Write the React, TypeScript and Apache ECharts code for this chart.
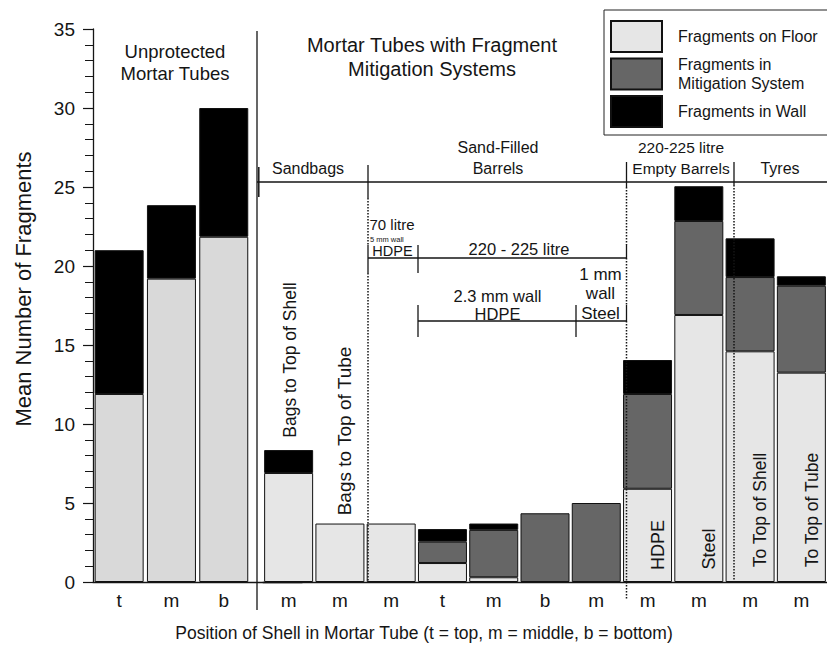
import React, { useEffect, useRef } from "react";
import * as echarts from "echarts";

// ---- data ----
const unprotectedCats = ["t", "m", "b", ""];
const mitigatedCats = ["m", "m", "m", "t", "m", "b", "m", "m", "m", "m", "m"];

const unprotFloor = [11.9, 19.2, 21.85];
const unprotWall = [9.1, 4.65, 8.15];

const mitFloor = [6.9, 3.7, 3.7, 1.2, 0.3, null, null, 5.9, 16.9, 14.6, 13.25];
const mitSystem = [null, null, null, 1.35, 3.0, 4.35, 5.0, 6.0, 5.95, 4.7, 5.5];
const mitWall = [1.45, null, null, 0.8, 0.4, null, null, 2.15, 2.2, 2.45, 0.6];

const seriesNames = [
  "Fragments on Floor",
  "Fragments in\nMitigation System",
  "Fragments in Wall",
];

const Y_MIN = 0;
const Y_MAX = 35;
const Y_INTERVAL = 5;

// ---- styles ----
const FONT = "'Liberation Sans', Arial, sans-serif";
const INK = "#151515";
const FLOOR = "#e6e6e6";
const FLOOR_UNPROT = "#d9d9d9";
const MIT = "#666666";
const WALL = "#000000";

function line(x1: number, y1: number, x2: number, y2: number, dashed = false, w = 1.3) {
  return {
    type: "line",
    z: 100,
    silent: true,
    shape: { x1, y1, x2, y2 },
    style: {
      stroke: INK,
      lineWidth: dashed ? 1.5 : w,
      lineDash: dashed ? [1.5, 1.5] : null,
    },
  };
}

function text(t: string, x: number, y: number, size: number, opts: any = {}) {
  return {
    type: "text",
    z: 100,
    silent: true,
    x,
    y,
    rotation: opts.rotation || 0,
    style: {
      text: t,
      fill: INK,
      fontSize: size,
      fontFamily: FONT,
      textAlign: opts.align || "center",
      textVerticalAlign: "middle",
      lineHeight: opts.lineHeight || size * 1.2,
    },
  };
}

export default function App() {
  const ref = useRef<HTMLDivElement>(null);

  useEffect(() => {
    document.body.style.margin = "0";
    if (!ref.current) return;
    const chart = echarts.init(ref.current, null, { renderer: "svg" });

    const barStyle = (color: string) => ({
      color,
      borderColor: "#111",
      borderWidth: 1,
    });

    const axisLabel = { fontSize: 19, color: INK, fontFamily: FONT };

    const option: any = {
      animation: false,
      backgroundColor: "#ffffff",
      textStyle: { fontFamily: FONT },
      grid: [
        { left: 93, top: 29, width: 209.2, height: 553 },
        { left: 263, top: 29, width: 575.3, height: 553 },
      ],
      legend: {
        orient: "vertical",
        left: 610,
        top: 20,
        padding: 0,
        itemWidth: 51,
        itemHeight: 31,
        itemGap: 2,
        icon: "rect",
        selectedMode: false,
        borderWidth: 0,
        data: seriesNames,
        textStyle: {
          fontSize: 16,
          color: INK,
          fontFamily: FONT,
          lineHeight: 19,
          padding: [0, 0, 0, 11],
        },
      },
      xAxis: [
        {
          type: "category",
          gridIndex: 0,
          data: unprotectedCats,
          axisLine: { lineStyle: { color: INK, width: 1.3 } },
          axisTick: { show: false },
          axisLabel: { ...axisLabel, margin: 9 },
        },
        {
          type: "category",
          gridIndex: 1,
          data: mitigatedCats,
          axisLine: { lineStyle: { color: INK, width: 1.3 } },
          axisTick: { show: false },
          axisLabel: { ...axisLabel, margin: 9 },
        },
      ],
      yAxis: [
        {
          type: "value",
          gridIndex: 0,
          min: Y_MIN,
          max: Y_MAX,
          interval: Y_INTERVAL,
          axisLine: { show: true, lineStyle: { color: INK, width: 1.3 } },
          axisTick: { show: true, length: 10, lineStyle: { color: INK, width: 1.2 } },
          minorTick: { show: true, splitNumber: 5, length: 8, lineStyle: { color: INK, width: 1 } },
          splitLine: { show: false },
          minorSplitLine: { show: false },
          axisLabel: { ...axisLabel, margin: 18 },
        },
        {
          type: "value",
          gridIndex: 1,
          min: Y_MIN,
          max: Y_MAX,
          interval: Y_INTERVAL,
          show: false,
          splitLine: { show: false },
        },
      ],
      series: [
        {
          name: seriesNames[0],
          type: "bar",
          xAxisIndex: 0,
          yAxisIndex: 0,
          stack: "unprot",
          barWidth: 49,
          itemStyle: barStyle(FLOOR),
          data: unprotFloor.map((v) => ({ value: v, itemStyle: { color: FLOOR_UNPROT } })),
        },
        {
          name: seriesNames[2],
          type: "bar",
          xAxisIndex: 0,
          yAxisIndex: 0,
          stack: "unprot",
          barWidth: 49,
          itemStyle: barStyle(WALL),
          data: unprotWall,
        },
        {
          name: seriesNames[0],
          type: "bar",
          xAxisIndex: 1,
          yAxisIndex: 1,
          stack: "mit",
          barWidth: 49,
          itemStyle: barStyle(FLOOR),
          data: mitFloor,
        },
        {
          name: seriesNames[1],
          type: "bar",
          xAxisIndex: 1,
          yAxisIndex: 1,
          stack: "mit",
          barWidth: 49,
          itemStyle: barStyle(MIT),
          data: mitSystem,
        },
        {
          name: seriesNames[2],
          type: "bar",
          xAxisIndex: 1,
          yAxisIndex: 1,
          stack: "mit",
          barWidth: 49,
          itemStyle: barStyle(WALL),
          data: mitWall,
        },
      ],
      graphic: {
        elements: [
          // legend frame (runs off the right edge like the reference)
          {
            type: "rect",
            z: 100,
            silent: true,
            shape: { x: 604, y: 10, width: 260, height: 125 },
            style: { fill: "none", stroke: "#222", lineWidth: 1 },
          },
          // main separator
          line(257, 31, 257, 610),
          line(258.8, 167, 258.8, 197, false, 1.5),
          line(257, 182, 827, 182),
          line(368, 165, 368, 198),
          line(626.5, 162, 626.5, 187),
          line(734, 162, 734, 185),
          // 70 litre / 220-225 litre bracket
          line(368, 245, 368, 273),
          line(418, 245, 418, 273),
          line(368, 258, 626.5, 258),
          line(626.5, 245, 626.5, 258),
          // 2.3 mm / steel bracket
          line(418, 305, 418, 337),
          line(576, 305, 576, 337),
          line(418, 321, 626.5, 321),
          line(626.5, 305, 626.5, 321),
          // dotted dividers
          line(368, 198, 368, 245, true),
          line(368, 273, 368, 582, true),
          line(626.5, 187, 626.5, 245, true),
          line(626.5, 258, 626.5, 305, true),
          line(626.5, 321, 626.5, 600, true),
          line(734, 185, 734, 582, true),
          // headings
          text("Unprotected\nMortar Tubes", 175, 62.5, 18.5, { lineHeight: 22 }),
          text("Mortar Tubes with Fragment\nMitigation Systems", 432, 57, 20, { lineHeight: 23.5 }),
          text("Sandbags", 308, 168.5, 16),
          text("Sand-Filled\nBarrels", 498, 158, 16, { lineHeight: 21 }),
          text("220-225 litre\nEmpty Barrels", 681, 158, 15.5, { lineHeight: 21 }),
          text("Tyres", 780, 168.5, 16),
          text("70 litre", 392, 224.5, 15),
          text("5 mm wall", 370, 239.5, 7.5, { align: "left" }),
          text("HDPE", 392.5, 251, 14.5),
          text("220 - 225 litre", 519, 249, 16.5),
          text("2.3 mm wall\nHDPE", 497.5, 305, 16.5, { lineHeight: 18.5 }),
          text("1 mm\nwall\nSteel", 600.5, 293.5, 17, { lineHeight: 19.5 }),
          // rotated labels in/over bars
          text("Bags to Top of Shell", 290, 360, 17.5, { rotation: Math.PI / 2 }),
          text("Bags to Top of Tube", 344, 431, 19, { rotation: Math.PI / 2 }),
          text("HDPE", 657.5, 545, 18, { rotation: Math.PI / 2 }),
          text("Steel", 708.5, 549, 18, { rotation: Math.PI / 2 }),
          text("To Top of Shell", 760, 510, 17.5, { rotation: Math.PI / 2 }),
          text("To Top of Tube", 812, 510, 17.5, { rotation: Math.PI / 2 }),
          // axis titles
          text("Mean Number of Fragments", 23, 289, 22, { rotation: Math.PI / 2 }),
          text("Position of Shell in Mortar Tube (t = top, m = middle, b = bottom)", 424, 633, 17.5),
        ],
      },
    };

    chart.setOption(option);
    return () => chart.dispose();
  }, []);

  return <div ref={ref} style={{ width: 827, height: 646 }} />;
}
